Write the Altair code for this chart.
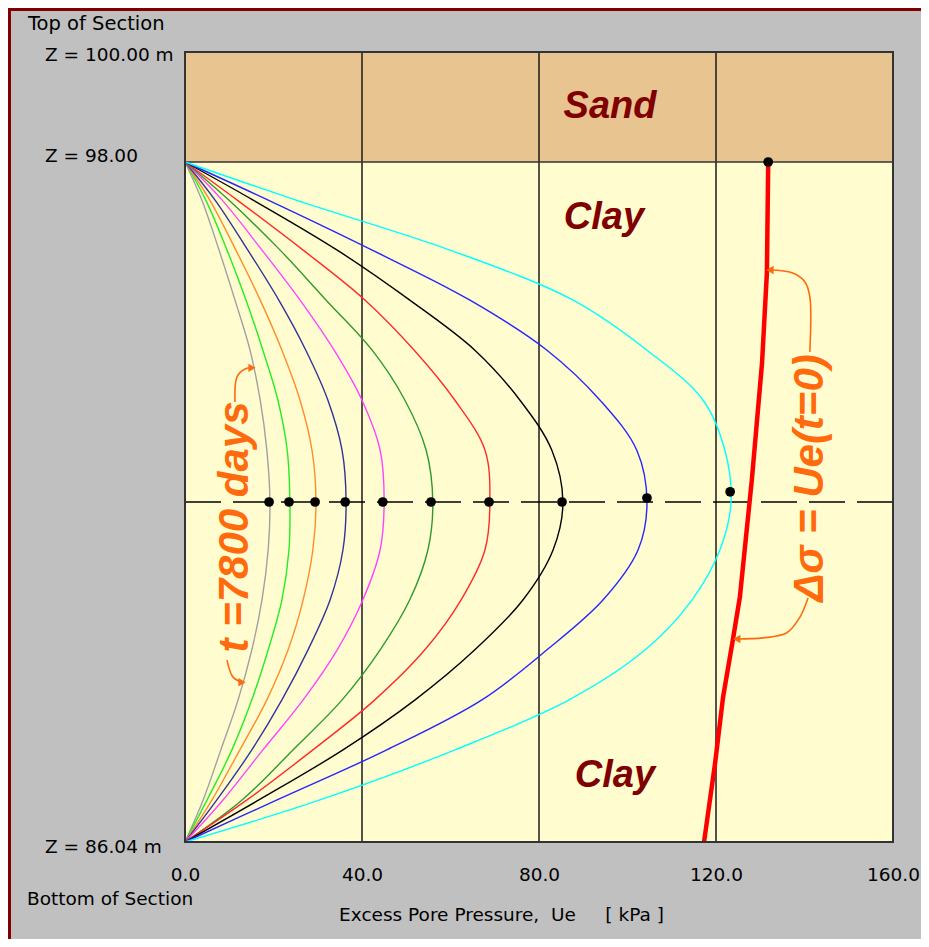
import altair as alt
import pandas as pd

# ---------------- data ----------------
# depth levels (Z, m) at which the isochrones were read
Z_LEVELS = [98.00, 97.33, 96.45, 95.57, 94.69, 93.81, 92.93, 92.02,
            91.18, 90.30, 89.42, 88.54, 87.66, 86.78, 86.04]

# excess pore pressure Ue (kPa) of each isochrone at the Z levels above
UE_GRAY    = [0, 3.8, 7.7, 11.3, 14.7, 17.0, 18.5, 19.2, 18.8, 17.4, 15.1, 12.0, 8.1, 4.1, 0]
UE_LIME    = [0, 4.7, 9.5, 13.8, 17.6, 21.0, 23.1, 23.7, 23.5, 21.9, 18.8, 15.1, 10.6, 5.0, 0]
UE_ORANGE  = [0, 5.6, 11.5, 17.0, 21.9, 26.0, 28.7, 29.6, 28.9, 26.7, 23.3, 18.5, 12.4, 6.1, 0]
UE_NAVY    = [0, 6.8, 14.2, 21.2, 27.3, 32.3, 35.5, 36.4, 35.7, 32.8, 27.8, 21.9, 15.1, 7.2, 0]
UE_MAGENTA = [0, 8.4, 17.4, 26.0, 33.7, 40.0, 44.1, 45.0, 44.1, 40.2, 34.4, 26.7, 17.6, 8.6, 0]
UE_GREEN   = [0, 9.9, 21.5, 31.9, 42.3, 49.7, 54.5, 56.0, 54.9, 50.8, 44.1, 35.5, 24.4, 12.9, 0]
UE_RED     = [0, 11.8, 26.7, 40.7, 51.8, 61.0, 67.8, 68.9, 67.8, 62.4, 54.2, 42.9, 28.9, 14.0, 0]
UE_BLACK   = [0, 15.4, 34.4, 50.8, 65.5, 75.7, 82.9, 85.4, 83.2, 76.4, 65.5, 52.0, 35.7, 16.7, 0]
UE_BLUE    = [0, 18.8, 42.3, 64.4, 81.8, 93.8, 102.1, 104.4, 102.4, 94.5, 81.8, 67.1, 45.6, 20.8, 0]
UE_CYAN    = [0, 25.1, 59.9, 87.7, 104.4, 117.1, 122.0, 123.4, 120.9, 114.6, 104.0, 86.8, 61.0, 30.5, 0]

SERIES = ["gray", "lime", "orange", "navy", "magenta", "green", "red", "black", "blue", "cyan"]
SERIES_VALUES = [UE_GRAY, UE_LIME, UE_ORANGE, UE_NAVY, UE_MAGENTA, UE_GREEN,
                 UE_RED, UE_BLACK, UE_BLUE, UE_CYAN]
SERIES_COLORS = ["#A0A0A0", "#22EE22", "#FF8C2A", "#333399", "#FF44FF",
                 "#2E9A2E", "#FF2A2A", "#000000", "#2626FF", "#00FFFF"]

# initial excess pore pressure (delta sigma) profile
DS_Z  = [98.00, 96.05, 94.46, 92.41, 90.35, 89.59, 88.59, 87.43, 86.04]
DS_UE = [131.8, 131.5, 130.4, 128.1, 125.4, 123.8, 121.6, 119.8, 117.3]

# mid-depth markers
DOT_UE = [19.0, 23.5, 29.4, 36.2, 44.7, 55.6, 68.7, 85.2, 104.4, 123.2, 131.8]
DOT_Z  = [92.02, 92.02, 92.02, 92.02, 92.02, 92.02, 92.02, 92.02, 92.09, 92.20, 98.00]

MID_Z = [92.02]
LAYER_TOP = [98.0]
GRID_X = [40, 80, 120]
X_TICKS = [0, 40, 80, 120, 160]

# callout arrows (kPa, Z)
ARROW_ID = ["a1"] * 4 + ["a2"] * 3 + ["a3"] * 5 + ["a4"] * 5
ARROW_UE = [11.3, 11.75, 13.56, 15.14,
            9.49, 10.85, 12.88,
            141.2, 141.2, 140.1, 137.2, 132.2,
            140.8, 139.0, 136.0, 130.6, 124.7]
ARROW_Z = [93.78, 94.22, 94.36, 94.38,
           89.24, 88.94, 88.85,
           94.66, 95.63, 95.89, 96.05, 96.10,
           90.33, 90.00, 89.72, 89.63, 89.61]

# ---------------- tables ----------------
rows = []
for name, vals in zip(SERIES, SERIES_VALUES):
    for i, (z, u) in enumerate(zip(Z_LEVELS, vals)):
        rows.append({"series": name, "i": i, "z": z, "u": u})
curves = pd.DataFrame(rows)
ds = pd.DataFrame({"u": DS_UE, "z": DS_Z, "i": list(range(len(DS_Z)))})
dots = pd.DataFrame({"u": DOT_UE, "z": DOT_Z})
arrows = pd.DataFrame({"id": ARROW_ID, "u": ARROW_UE, "z": ARROW_Z,
                       "i": list(range(len(ARROW_ID)))})
heads = arrows.groupby("id").tail(1).reset_index(drop=True)
one = pd.DataFrame({"k": [0]})

FONT = "DejaVu Sans"
BOLD_FONT = "Liberation Sans"
ORANGE = "#FF6A0D"
DARKRED = "#800000"
SAND = "#E8C490"
CLAY = "#FFFDD0"

xscale = alt.Scale(domain=[0, 160], nice=False, zero=False)
yscale = alt.Scale(domain=[86.04, 98, 100], range=[790, 110, 0], nice=False, zero=False)

XTITLE = "Excess Pore Pressure,\u00a0 Ue\u00a0\u00a0\u00a0\u00a0 [ kPa ]"
xaxis = alt.Axis(values=X_TICKS, format=".1f", grid=False, domain=False, ticks=False,
                 labelFont=FONT, labelFontSize=18.5, labelColor="#000000",
                 labelPadding=23, labelFlush=False,
                 title=XTITLE,
                 titleFont=FONT, titleFontSize=18.5, titleFontWeight="normal",
                 titleColor="#000000", titleX=316, titleY=72,
                 titleAlign="center", titleBaseline="middle")


def X(field):
    return alt.X(field, scale=xscale, axis=xaxis, title=XTITLE)


def Y(field):
    return alt.Y(field, scale=yscale, axis=None)


sand = alt.Chart(pd.DataFrame({"x0": [0], "x1": [160], "z0": LAYER_TOP, "z1": [100]})).mark_rect(
    color=SAND).encode(x=X("x0:Q"), x2="x1", y=Y("z0:Q"), y2="z1")

grid = alt.Chart(pd.DataFrame({"g": GRID_X})).mark_rule(color="#1a1a1a", strokeWidth=1.5).encode(
    x=X("g:Q"))

boundary = alt.Chart(pd.DataFrame({"b": LAYER_TOP})).mark_rule(color="#333333", strokeWidth=1.5).encode(
    y=Y("b:Q"))

midline = alt.Chart(pd.DataFrame({"m": MID_Z})).mark_rule(
    color="#000000", strokeWidth=1.3, strokeDash=[36, 12]).encode(y=Y("m:Q"))

curve_chart = alt.Chart(curves).mark_line(strokeWidth=1.4, interpolate="catmull-rom").encode(
    x=X("u:Q"), y=Y("z:Q"),
    color=alt.Color("series:N", scale=alt.Scale(domain=SERIES, range=SERIES_COLORS), legend=None),
    detail="series:N",
    order="i:Q")

ds_line = alt.Chart(ds).mark_line(color="#FF0000", strokeWidth=4.5).encode(
    x=X("u:Q"), y=Y("z:Q"), order="i:Q")

dot_chart = alt.Chart(dots).mark_circle(size=95, color="#000000", opacity=1).encode(
    x=X("u:Q"), y=Y("z:Q"))

arrow_lines = alt.Chart(arrows).mark_line(color=ORANGE, strokeWidth=1.6, interpolate="catmull-rom").encode(
    x=X("u:Q"), y=Y("z:Q"), detail="id:N", order="i:Q")

heads_right = alt.Chart(heads[heads["id"].isin(["a1", "a2"])]).mark_point(
    shape="triangle-right", filled=True, size=70, color=ORANGE, opacity=1).encode(
    x=X("u:Q"), y=Y("z:Q"))

heads_left = alt.Chart(heads[heads["id"].isin(["a3", "a4"])]).mark_point(
    shape="triangle-left", filled=True, size=70, color=ORANGE, opacity=1).encode(
    x=X("u:Q"), y=Y("z:Q"))

outline = alt.Chart(pd.DataFrame({"x0": [0], "x1": [160], "z0": [86.04], "z1": [100]})).mark_rect(
    fillOpacity=0, stroke="#333333", strokeWidth=2).encode(
    x=X("x0:Q"), x2="x1", y=Y("z0:Q"), y2="z1")


def txt(text, x, y, size=18.5, align="left", color="#000000", font=FONT,
        weight="normal", style="normal", angle=0):
    return alt.Chart(one).mark_text(
        text=text, align=align, baseline="middle", font=font, fontSize=size,
        fontWeight=weight, fontStyle=style, color=color, angle=angle).encode(
        x=alt.value(x), y=alt.value(y))


def zlabel(text, z, dy):
    return alt.Chart(one).mark_text(
        text=text, align="left", baseline="middle", font=FONT, fontSize=18.5,
        color="#000000", dy=dy).encode(
        x=alt.value(-140), y=alt.datum(z, scale=yscale, axis=None))


texts = [
    txt("Top of Section", -157, -28, size=19.5),
    txt("Bottom of Section", -158, 847),
    zlabel("Z = 100.00 m", 100, 3),
    zlabel("Z = 98.00", 98, -6),
    zlabel("Z = 86.04 m", 86.04, 5),
    txt("Sand", 425, 55, size=38, align="center", color=DARKRED, font=BOLD_FONT,
        weight="bold", style="italic"),
    txt("Clay", 419, 166, size=38, align="center", color=DARKRED, font=BOLD_FONT,
        weight="bold", style="italic"),
    txt("Clay", 430, 724, size=38, align="center", color=DARKRED, font=BOLD_FONT,
        weight="bold", style="italic"),
    txt("t =7800 days", 50, 475, size=42, align="center", color=ORANGE, font=BOLD_FONT,
        weight="bold", style="italic", angle=270),
    txt("\u0394\u03c3 = Ue(t=0)", 625, 426, size=42, align="center", color=ORANGE, font=BOLD_FONT,
        weight="bold", style="italic", angle=270),
]

frame_left = alt.Chart(one).mark_rule(color=DARKRED, strokeWidth=3).encode(
    x=alt.value(-175.5), y=alt.value(-44), y2=alt.value(887))
frame_top = alt.Chart(one).mark_rule(color=DARKRED, strokeWidth=3).encode(
    y=alt.value(-42.5), x=alt.value(-177), x2=alt.value(736))

chart = alt.layer(
    sand, grid, boundary, midline, curve_chart, ds_line, dot_chart,
    arrow_lines, heads_right, heads_left, outline, frame_left, frame_top, *texts
).resolve_axis(x="shared").properties(
    width=708, height=790,
    padding={"left": 177, "top": 44, "right": 28, "bottom": 97},
    autosize=alt.AutoSizeParams(type="none"),
    background="#C0C0C0",
).configure_view(fill=CLAY, stroke="#333333", strokeWidth=2)

chart.save("out.html", embed_options={"renderer": "svg", "actions": False})
